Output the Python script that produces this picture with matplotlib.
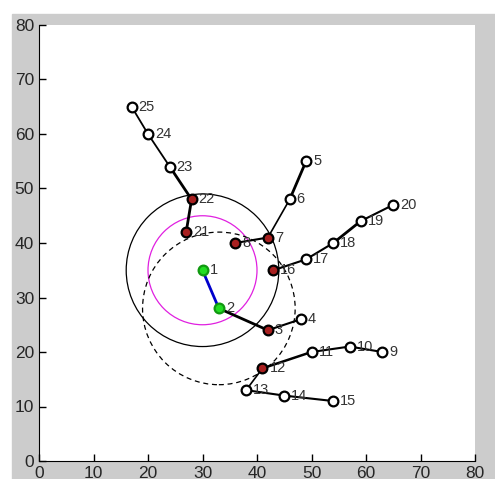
import matplotlib
matplotlib.use("Agg")
import matplotlib.pyplot as plt
import matplotlib.patches as patches

plt.rcParams['font.family'] = ['Liberation Sans', 'DejaVu Sans']

# node positions, index = node number - 1
px = [30, 33, 42, 48, 49, 46, 42, 36, 63, 57, 50, 41, 38, 45, 54,
      43, 49, 54, 59, 65, 27, 28, 24, 20, 17]
py = [35, 28, 24, 26, 55, 48, 41, 40, 20, 21, 20, 17, 13, 12, 11,
      35, 37, 40, 44, 47, 42, 48, 54, 60, 65]

green_nodes = [1, 2]
red_nodes = [3, 7, 8, 12, 16, 21, 22]

# connections between nodes
links = [(2, 3), (3, 4), (8, 7), (7, 6), (6, 5), (12, 11), (11, 10), (10, 9),
         (12, 13), (13, 14), (14, 15), (16, 17), (17, 18), (18, 19), (19, 20),
         (21, 22), (22, 23), (23, 24), (24, 25)]
link_w = [2, 1.5, 1.5, 1.2, 2, 1.8, 1.5, 1.5, 1.2, 1.5, 1.5, 1.5, 1.5, 2, 1.5,
          2, 2, 1.3, 1.3]

# circles: (cx, cy, r)
solid_circle = (30, 35, 14)
magenta_circle = (30, 35, 10)
dashed_circle = (33, 28, 14)

fig = plt.figure(figsize=(4.95, 4.79), dpi=100)
fig.patches.append(patches.Rectangle((12 / 495, 0), 1, (479 - 14) / 479,
                                     transform=fig.transFigure,
                                     color='#cccccc', zorder=-10))
ax = fig.add_axes([39 / 495, 18 / 479, 436 / 495, 436 / 479])

ax.add_patch(patches.Circle(solid_circle[:2], solid_circle[2], fill=False,
                            ec='black', lw=0.9))
ax.add_patch(patches.Circle(magenta_circle[:2], magenta_circle[2], fill=False,
                            ec='#e020e0', lw=0.9))
ax.add_patch(patches.Circle(dashed_circle[:2], dashed_circle[2], fill=False,
                            ec='black', lw=0.9, ls=(0, (4, 3))))

ax.plot([px[0], px[1]], [py[0], py[1]], color='#0000cc', lw=2, zorder=3)
for (a, b), w in zip(links, link_w):
    ax.plot([px[a - 1], px[b - 1]], [py[a - 1], py[b - 1]], color='black',
            lw=w, zorder=3)

for i in range(len(px)):
    n = i + 1
    if n in green_nodes:
        fc, ec = '#22dd22', '#119911'
    elif n in red_nodes:
        fc, ec = '#a82020', 'black'
    else:
        fc, ec = 'white', 'black'
    ax.plot(px[i], py[i], 'o', ms=7, mfc=fc, mec=ec, mew=1.6, zorder=4)
    ax.annotate(str(n), (px[i], py[i]), xytext=(5, 0),
                textcoords='offset points', ha='left', va='center',
                fontsize=10.5, color='#333333', zorder=5)

ax.set_xlim(0, 80)
ax.set_ylim(0, 80)
ax.set_xticks(range(0, 81, 10))
ax.set_yticks(range(0, 81, 10))
ax.spines['top'].set_visible(False)
ax.spines['right'].set_visible(False)
ax.tick_params(direction='in', length=5, labelsize=12.5, labelcolor='#262626',
               width=1)

fig.savefig('out.png', dpi=100)
